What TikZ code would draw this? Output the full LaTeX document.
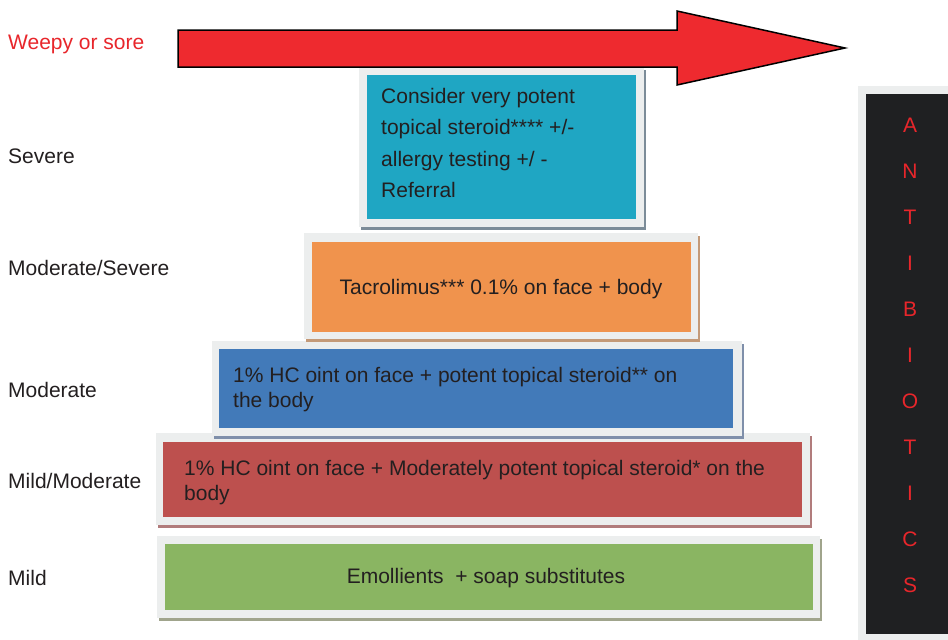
\documentclass[tikz,border=0pt]{standalone}
\usepackage{fontspec}
\setmainfont{Liberation Sans}
\definecolor{arrowred}{HTML}{EE2A2F}
\definecolor{labelred}{HTML}{E8262B}
\definecolor{framegray}{HTML}{ECEEEE}
\definecolor{cyanbox}{HTML}{1FA6C3}
\definecolor{orangebox}{HTML}{F0934D}
\definecolor{bluebox}{HTML}{427AB9}
\definecolor{redbox}{HTML}{BD504E}
\definecolor{greenbox}{HTML}{8AB562}
\definecolor{barblack}{HTML}{1F2022}
\definecolor{txt}{HTML}{231F20}
\definecolor{shcyan}{HTML}{7C8C98}
\definecolor{shorange}{HTML}{C49A78}
\definecolor{shblue}{HTML}{7F8FAA}
\definecolor{shred}{HTML}{B17C7C}
\definecolor{shgreen}{HTML}{A0A48C}
\begin{document}
\begin{tikzpicture}[x=1pt,y=-1pt,
  lbl/.style={anchor=base west, inner sep=0pt, text=txt, font=\fontsize{21}{25}\selectfont},
  boxtxt/.style={anchor=base west, inner sep=0pt, text=txt, font=\fontsize{21}{25}\selectfont},
  boxtxtc/.style={anchor=base, inner sep=0pt, text=txt, font=\fontsize{21}{25}\selectfont},
  letter/.style={anchor=base, inner sep=0pt, text=labelred, font=\fontsize{21}{25}\selectfont},
  frame/.style={fill=framegray},
]
\useasboundingbox (0,0) rectangle (948,640);
\fill[white] (0,0) rectangle (948,640);

% ---- tier boxes: shadow, frame, inner ----
% green (Mild)
\fill[shgreen] (159,539) rectangle (822,621);
\fill[frame] (157,536) rectangle (820,618);
\fill[greenbox] (165,544) rectangle (813,610);
% red (Mild/Moderate)
\fill[shred] (158,436) rectangle (812,528);
\fill[frame] (156,433) rectangle (810,525);
\fill[redbox] (163,442) rectangle (802,517);
% blue (Moderate)
\fill[shblue] (214,344) rectangle (744,439);
\fill[frame] (212,341) rectangle (742,436);
\fill[bluebox] (219,349) rectangle (733,428);
% orange (Moderate/Severe)
\fill[shorange] (306,236) rectangle (700,342);
\fill[frame] (304,233) rectangle (698,339);
\fill[orangebox] (312,242) rectangle (691,332);
% cyan (Severe)
\fill[shcyan] (361,70) rectangle (646,230);
\fill[frame] (359,67) rectangle (644,227);
\fill[cyanbox] (367,75) rectangle (636,219);

% ---- antibiotics bar ----
\fill[frame] (858,86) rectangle (948,640);
\fill[barblack] (866,94) rectangle (948,634);
\foreach \L [count=\i from 0] in {A,N,T,I,B,I,O,T,I,C,S}{
  \node[letter] (ab\i) at (910,{132+46*\i}) {\L};
}

% ---- arrow ----
\draw[fill=arrowred, draw=black, line width=1.5pt, line join=miter]
  (178,30) -- (677,30) -- (677,11) -- (845,48) -- (677,85) -- (677,67) -- (178,67) -- cycle;

% ---- left labels ----
\node[lbl, text=labelred] (weepy) at (8,49) {Weepy or sore};
\node[lbl] (severe) at (8,163) {Severe};
\node[lbl] (modsev) at (8,275) {Moderate/Severe};
\node[lbl] (moderate) at (8,397) {Moderate};
\node[lbl] (mildmod) at (8,488) {Mild/Moderate};
\node[lbl] (mild) at (8,585) {Mild};

% ---- box texts ----
\node[boxtxt] (c1) at (381,103) {Consider very potent};
\node[boxtxt] (c2) at (381,134.5) {topical steroid**** +/-};
\node[boxtxt] (c3) at (381,166) {allergy testing +/ -};
\node[boxtxt] (c4) at (381,197.5) {Referral};

\node[boxtxtc] (o1) at (501,294) {Tacrolimus*** 0.1\% on face + body};

\node[boxtxt] (b1) at (233,382) {1\% HC oint on face + potent topical steroid** on};
\node[boxtxt] (b2) at (233,407) {the body};

\node[boxtxt] (r1) at (184,475) {1\% HC oint on face + Moderately potent topical steroid* on the};
\node[boxtxt] (r2) at (184,500) {body};

\node[boxtxtc] (g1) at (486,583) {Emollients\ \ + soap substitutes};
\end{tikzpicture}
\end{document}
